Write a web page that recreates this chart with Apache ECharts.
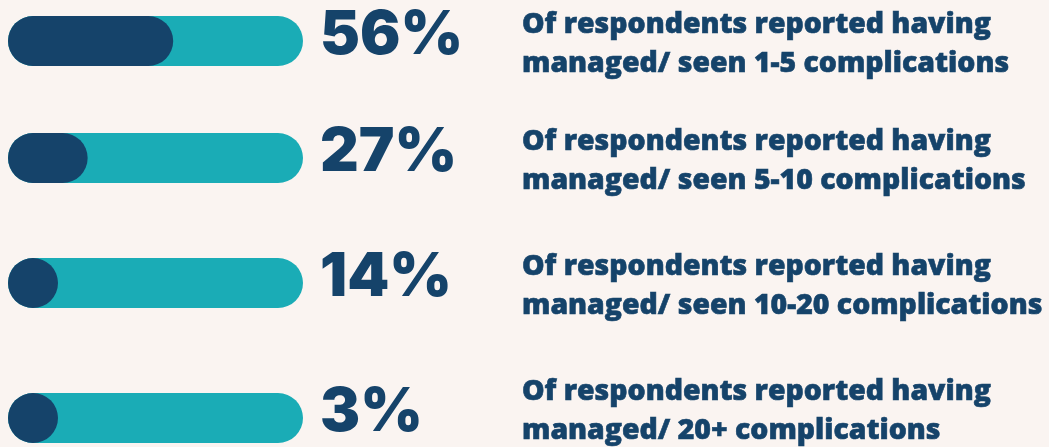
<!DOCTYPE html>
<html>
<head>
<meta charset="utf-8">
<script src="https://cdn.jsdelivr.net/npm/echarts@6/dist/echarts.min.js"></script>
<style>
  html, body { margin: 0; padding: 0; background: #faf4f1; }
  #chart { width: 1049px; height: 447px; }
</style>
</head>
<body>
<div id="chart"></div>
<script>
// values
const shares = [56, 27, 14, 3]
const descriptions = [
  'Of respondents reported having\nmanaged/ seen 1-5 complications',
  'Of respondents reported having\nmanaged/ seen 5-10 complications',
  'Of respondents reported having\nmanaged/ seen 10-20 complications',
  'Of respondents reported having\nmanaged/ 20+ complications'
]
const trackMax = 100

const navy = '#15436a'
const teal = '#1aacb6'

// row layout (bar centre in px); the last text block sits a bit higher
const rowCentres = [41, 158, 283, 418]
const textShift = [3, 3, 3, -7]

const chart = echarts.init(document.getElementById('chart'))

const grids = []
const xAxes = []
const yAxes = []
const series = []

shares.forEach((v, i) => {
  grids.push({
    left: 8, width: 295, top: rowCentres[i] - 25, height: 50,
    outerBoundsMode: 'none', containLabel: false
  })
  xAxes.push({ type: 'value', gridIndex: i, min: 0, max: trackMax, show: false })
  yAxes.push({ type: 'category', gridIndex: i, data: [descriptions[i]], show: false })
  // teal track, carries the description text
  series.push({
    type: 'bar',
    xAxisIndex: i,
    yAxisIndex: i,
    data: [trackMax],
    barWidth: 50,
    barGap: '-100%',
    silent: true,
    itemStyle: { color: teal, borderRadius: 25 },
    label: {
      show: true,
      position: [514, 25 + textShift[i]],
      align: 'left',
      verticalAlign: 'middle',
      formatter: '{b}',
      color: navy,
      fontFamily: 'Open Sans',
      fontWeight: 800,
      fontSize: 28.4,
      lineHeight: 39,
      textBorderColor: navy,
      textBorderWidth: 0.6
    }
  })
  // navy fill, carries the percentage
  series.push({
    type: 'bar',
    xAxisIndex: i,
    yAxisIndex: i,
    data: [v],
    barWidth: 50,
    barMinHeight: 50,
    itemStyle: { color: navy, borderRadius: 25 },
    label: {
      show: true,
      position: [312, 20],
      verticalAlign: 'middle',
      align: 'left',
      formatter: p => p.value + '%',
      color: navy,
      fontFamily: 'Inter',
      fontWeight: 900,
      fontSize: 60
    }
  })
})

chart.setOption({
  backgroundColor: '#faf4f1',
  animation: false,
  grid: grids,
  xAxis: xAxes,
  yAxis: yAxes,
  series: series
})

window.addEventListener('resize', () => chart.resize())
</script>
</body>
</html>
